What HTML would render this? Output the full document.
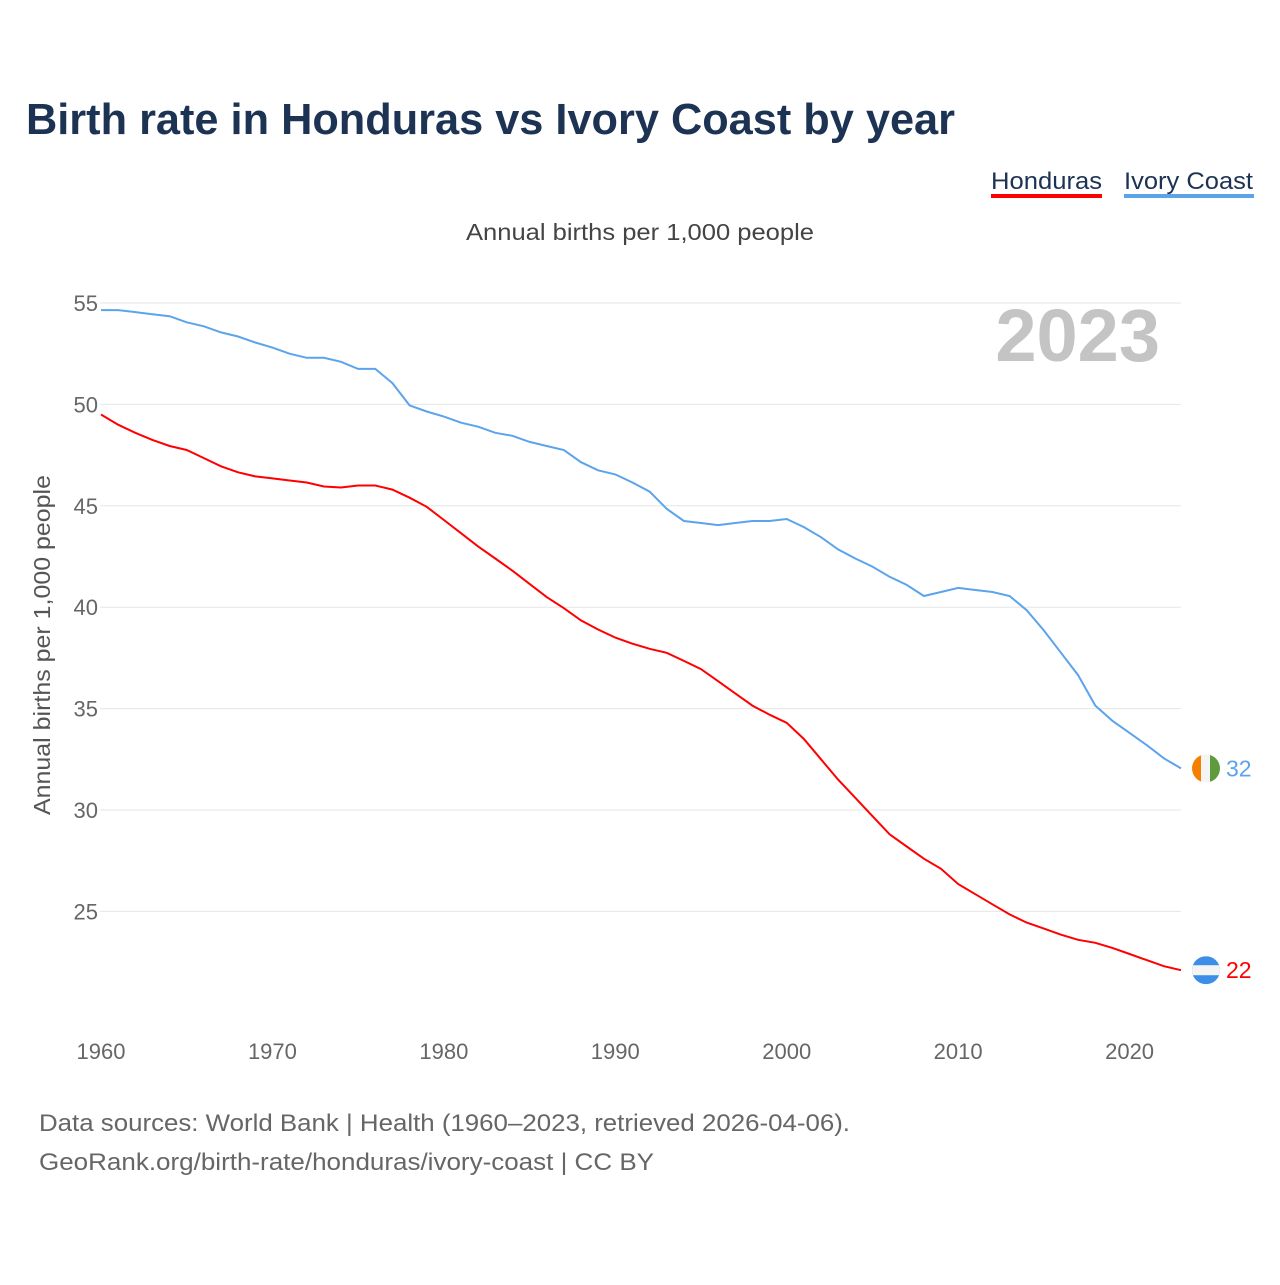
<!DOCTYPE html>
<html><head><meta charset="utf-8">
<style>
body{margin:0;background:#fff;font-family:"Liberation Sans",sans-serif;}
svg text{font-family:"Liberation Sans",sans-serif;}
</style></head>
<body>
<svg id="chart" width="1280" height="1280" viewBox="0 0 1280 1280" xmlns="http://www.w3.org/2000/svg">
<rect width="1280" height="1280" fill="#fff"/>
<text x="26" y="134" font-size="44" font-weight="bold" fill="#1d3354" textLength="929" lengthAdjust="spacingAndGlyphs">Birth rate in Honduras vs Ivory Coast by year</text>
<g>
<text x="991" y="189" font-size="24" fill="#1d3354" textLength="111" lengthAdjust="spacingAndGlyphs">Honduras</text>
<rect x="991" y="194" width="111" height="4" fill="#ff0000"/>
</g>
<g>
<text x="1124" y="189" font-size="24" fill="#1d3354" textLength="129" lengthAdjust="spacingAndGlyphs">Ivory Coast</text>
<rect x="1124" y="194" width="130" height="4" fill="#5ba4ec"/>
</g>
<text x="466" y="240" font-size="23" fill="#444" textLength="348" lengthAdjust="spacingAndGlyphs">Annual births per 1,000 people</text>
<text x="1160" y="361" font-size="74" font-weight="bold" fill="#c4c4c4" text-anchor="end">2023</text>
<text transform="translate(50,815) rotate(-90)" font-size="23" fill="#555" textLength="340" lengthAdjust="spacingAndGlyphs">Annual births per 1,000 people</text>
<g id="grid"></g><g id="yticks"></g><g id="xticks"></g><g id="lines"></g><g id="ends"></g>
<text x="39" y="1131" font-size="24" fill="#666" textLength="811" lengthAdjust="spacingAndGlyphs">Data sources: World Bank | Health (1960–2023, retrieved 2026-04-06).</text>
<text x="39" y="1170" font-size="24" fill="#666" textLength="615" lengthAdjust="spacingAndGlyphs">GeoRank.org/birth-rate/honduras/ivory-coast | CC BY</text>
</svg>
<script>
const years=[];for(let y=1960;y<=2023;y++)years.push(y);
const honduras=[49.5,49.0,48.6,48.25,47.95,47.75,47.35,46.95,46.65,46.45,46.35,46.25,46.15,45.95,45.9,46.0,46.0,45.8,45.4,44.95,44.3,43.65,43.0,42.4,41.8,41.15,40.5,39.95,39.35,38.9,38.5,38.2,37.95,37.75,37.35,36.95,36.35,35.75,35.15,34.7,34.3,33.5,32.5,31.5,30.6,29.7,28.8,28.2,27.6,27.1,26.35,25.85,25.35,24.85,24.45,24.15,23.85,23.6,23.45,23.2,22.9,22.6,22.3,22.1];
const ivoryCoast=[54.65,54.65,54.55,54.45,54.35,54.05,53.85,53.55,53.35,53.05,52.8,52.5,52.3,52.3,52.1,51.75,51.75,51.05,49.95,49.65,49.4,49.1,48.9,48.6,48.45,48.15,47.95,47.75,47.15,46.75,46.55,46.15,45.7,44.85,44.25,44.15,44.05,44.15,44.25,44.25,44.35,43.95,43.45,42.85,42.4,42.0,41.5,41.1,40.55,40.75,40.95,40.85,40.75,40.55,39.85,38.85,37.75,36.65,35.15,34.4,33.8,33.2,32.55,32.05];
const yTicks=[25,30,35,40,45,50,55];
const xTicks=[1960,1970,1980,1990,2000,2010,2020];
const NS="http://www.w3.org/2000/svg";
const x=v=>101+(v-1960)*(1181-101)/63;
const y=v=>303+(55-v)*20.28;
function mk(t,a,p){const e=document.createElementNS(NS,t);for(const k in a)e.setAttribute(k,a[k]);p.appendChild(e);return e;}
const grid=document.getElementById('grid'),yt=document.getElementById('yticks'),xt=document.getElementById('xticks');
yTicks.forEach(v=>{
 const l=mk('line',{x1:100,x2:1181,y1:y(v),y2:y(v),stroke:'#e6e6e6','stroke-width':1},grid);
 
 
 const t=mk('text',{x:98,y:y(v)+8,'font-size':22,fill:'#666','text-anchor':'end'},yt);t.textContent=v;
 
 
});
xTicks.forEach(v=>{
 const t=mk('text',{x:x(v),y:1059,'font-size':22,fill:'#666','text-anchor':'middle'},xt);t.textContent=v;
 
 
});
const lines=document.getElementById('lines'),ends=document.getElementById('ends');
[[honduras,'#ff0000','honduras'],[ivoryCoast,'#5ba4ec','ivory-coast']].forEach(([d,c,n])=>{
 const p=mk('path',{d:d.map((v,i)=>(i?'L':'M')+x(years[i]).toFixed(1)+','+y(v).toFixed(1)).join(''),fill:'none',stroke:c,'stroke-width':2},lines);
 
 
 const last=d[d.length-1],cy=y(last);
 const g=mk('g',{},ends);
 
 
 if(n==='ivory-coast'){
  mk('clipPath',{id:'cl1'},g);mk('circle',{cx:1206,cy:cy,r:14},g.lastChild);
  const f=mk('g',{'clip-path':'url(#cl1)'},g);
  mk('rect',{x:1192,y:cy-14,width:10,height:28,fill:'#f77f00'},f);
  mk('rect',{x:1201,y:cy-14,width:10,height:28,fill:'#f4f4f4'},f);
  mk('rect',{x:1210,y:cy-14,width:10,height:28,fill:'#5e9b3c'},f);
 }else{
  mk('clipPath',{id:'cl2'},g);mk('circle',{cx:1206,cy:cy,r:14},g.lastChild);
  const f=mk('g',{'clip-path':'url(#cl2)'},g);
  mk('rect',{x:1192,y:cy-14,width:28,height:28,fill:'#3d8ee6'},f);
  mk('rect',{x:1192,y:cy-5,width:28,height:10,fill:'#f4f4f4'},f);
 }
 const t=mk('text',{x:1226,y:cy+8,'font-size':23,fill:c},g);t.textContent=Math.round(last);
});
</script>
</body></html>
